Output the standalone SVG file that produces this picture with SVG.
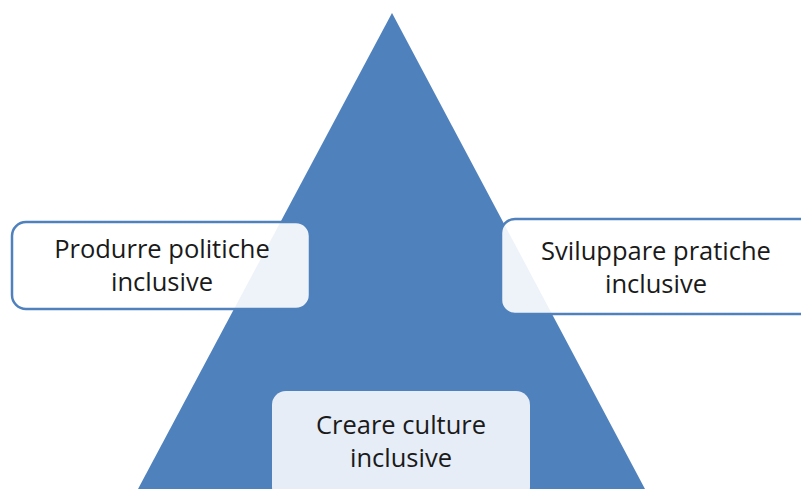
<svg xmlns="http://www.w3.org/2000/svg" width="801" height="489" viewBox="0 0 801 489">
<style>
.box{fill:#ffffff;fill-opacity:0.9;stroke:#4f81bd;stroke-width:2.5}
.t{font-family:"Open Sans","Liberation Sans",sans-serif;font-size:25.5px;fill:#1a1a1a;text-anchor:middle}
</style>
<rect width="801" height="489" fill="#ffffff"/>
<g id="pyramid"><polygon points="392,13 645,489 138,489" fill="#4f81bd"/></g>
<g id="connectors"/>
<g id="node-politiche">
<rect class="box" x="12" y="222" width="298" height="87" rx="14"/>
<text class="t" x="162" y="258">Produrre politiche</text>
<text class="t" x="162" y="291">inclusive</text>
</g>
<g id="node-pratiche">
<rect class="box" x="501" y="219" width="320" height="95" rx="14"/>
<text class="t" x="656" y="260">Sviluppare pratiche</text>
<text class="t" x="656" y="293">inclusive</text>
</g>
<g id="node-culture">
<rect x="272" y="391" width="258" height="110" rx="14" fill="#eef2f9" fill-opacity="0.95"/>
<text class="t" x="401" y="434">Creare culture</text>
<text class="t" x="401" y="467">inclusive</text>
</g>
</svg>
